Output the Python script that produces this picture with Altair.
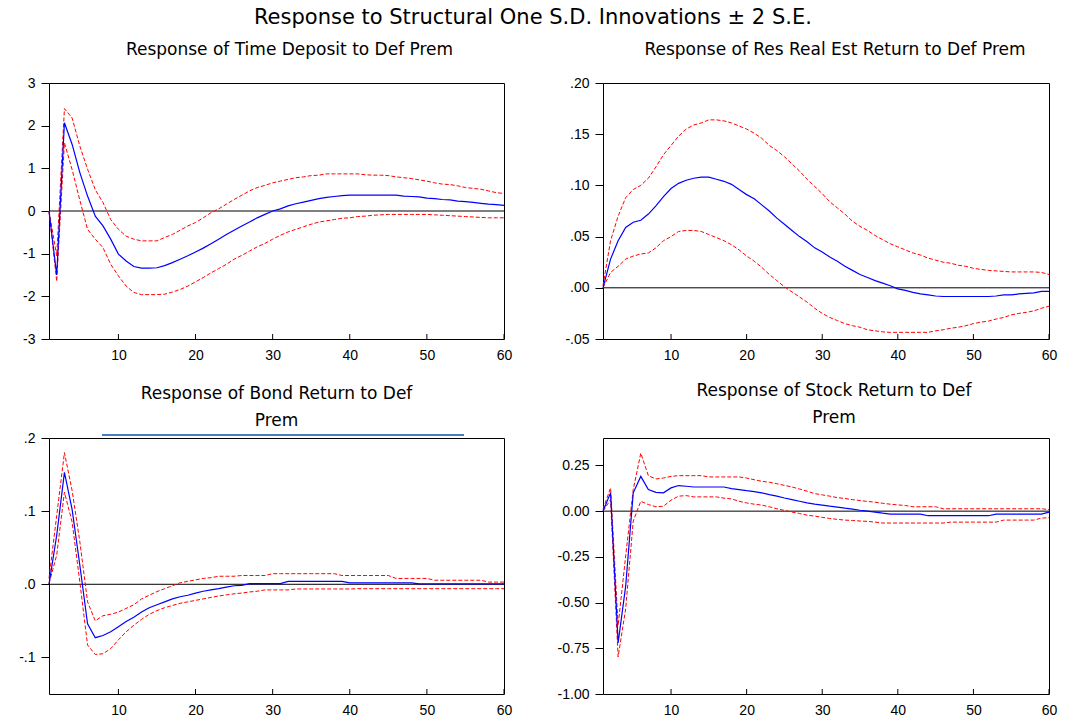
import altair as alt
import pandas as pd

# Impulse responses to a one S.D. shock in the default premium, periods 1..60
periods = list(range(1, 61))

# Time deposit
td_resp = [0.0, -1.5, 2.07, 1.56, 0.9, 0.35, -0.12, -0.35, -0.66, -1.01,
           -1.17, -1.3, -1.34, -1.34, -1.33, -1.28, -1.21, -1.13, -1.05, -0.96,
           -0.87, -0.77, -0.66, -0.55, -0.45, -0.35, -0.26, -0.16, -0.08, 0.0,
           0.05, 0.12, 0.17, 0.21, 0.25, 0.29, 0.32, 0.34, 0.36, 0.37,
           0.37, 0.37, 0.37, 0.37, 0.37, 0.37, 0.35, 0.34, 0.33, 0.3,
           0.29, 0.27, 0.26, 0.23, 0.22, 0.2, 0.18, 0.16, 0.15, 0.13]
td_up = [0.0, -1.05, 2.4, 2.18, 1.52, 0.98, 0.5, 0.2, -0.2, -0.43,
         -0.59, -0.66, -0.7, -0.7, -0.7, -0.62, -0.55, -0.45, -0.35, -0.27,
         -0.16, -0.04, 0.05, 0.16, 0.27, 0.37, 0.47, 0.55, 0.6, 0.66,
         0.7, 0.74, 0.78, 0.8, 0.83, 0.84, 0.87, 0.87, 0.87, 0.87,
         0.87, 0.85, 0.84, 0.84, 0.83, 0.8, 0.78, 0.76, 0.73, 0.7,
         0.66, 0.63, 0.62, 0.59, 0.55, 0.53, 0.51, 0.47, 0.43, 0.41]
td_lo = [0.0, -1.65, 1.6, 0.97, 0.25, -0.43, -0.66, -0.86, -1.25, -1.52,
         -1.76, -1.91, -1.96, -1.96, -1.96, -1.95, -1.9, -1.84, -1.76, -1.66,
         -1.56, -1.45, -1.35, -1.25, -1.13, -1.04, -0.94, -0.84, -0.76, -0.66,
         -0.57, -0.49, -0.43, -0.37, -0.31, -0.26, -0.23, -0.2, -0.17, -0.16,
         -0.13, -0.12, -0.1, -0.09, -0.08, -0.08, -0.08, -0.08, -0.08, -0.08,
         -0.09, -0.1, -0.11, -0.12, -0.13, -0.14, -0.15, -0.16, -0.16, -0.16]

# Residential real estate return
re_resp = [0.0, 0.028, 0.046, 0.059, 0.064, 0.066, 0.072, 0.08, 0.089, 0.097,
           0.102, 0.105, 0.107, 0.108, 0.108, 0.106, 0.104, 0.101, 0.096, 0.091,
           0.087, 0.081, 0.075, 0.068, 0.062, 0.056, 0.05, 0.045, 0.039, 0.035,
           0.03, 0.026, 0.021, 0.017, 0.013, 0.01, 0.007, 0.0045, 0.002, -0.001,
           -0.0025, -0.0045, -0.006, -0.007, -0.008, -0.0085, -0.0085, -0.0085, -0.0085, -0.0085,
           -0.0085, -0.0085, -0.008, -0.007, -0.007, -0.006, -0.0055, -0.005, -0.0035, -0.0035]
re_up = [0.002, 0.046, 0.07, 0.088, 0.096, 0.1, 0.107, 0.118, 0.13, 0.139,
         0.148, 0.155, 0.159, 0.161, 0.164, 0.164, 0.163, 0.161, 0.158, 0.155,
         0.151, 0.146, 0.139, 0.134, 0.128, 0.121, 0.114, 0.106, 0.099, 0.092,
         0.084, 0.078, 0.072, 0.065, 0.06, 0.056, 0.051, 0.047, 0.043, 0.04,
         0.037, 0.034, 0.032, 0.029, 0.027, 0.025, 0.024, 0.022, 0.021, 0.019,
         0.018, 0.017, 0.0165, 0.016, 0.0155, 0.0155, 0.0155, 0.0155, 0.015, 0.013]
re_lo = [0.0, 0.015, 0.021, 0.028, 0.031, 0.033, 0.034, 0.039, 0.046, 0.05,
         0.055, 0.056, 0.056, 0.055, 0.052, 0.049, 0.046, 0.042, 0.037, 0.031,
         0.026, 0.02, 0.013, 0.007, 0.001, -0.004, -0.009, -0.014, -0.02, -0.025,
         -0.029, -0.032, -0.035, -0.037, -0.0385, -0.041, -0.042, -0.043, -0.0435, -0.0435,
         -0.0435, -0.0435, -0.0435, -0.0435, -0.042, -0.041, -0.0395, -0.0385, -0.037, -0.035,
         -0.0335, -0.0325, -0.0305, -0.029, -0.0265, -0.025, -0.024, -0.0225, -0.02, -0.018]

# Bond return
bd_resp = [0.0, 0.067, 0.153, 0.102, 0.026, -0.054, -0.073, -0.07, -0.065, -0.058,
           -0.051, -0.045, -0.038, -0.032, -0.028, -0.024, -0.02, -0.017, -0.015, -0.012,
           -0.0095, -0.0077, -0.006, -0.004, -0.002, -0.0014, 0.001, 0.001, 0.001, 0.001,
           0.001, 0.004, 0.004, 0.004, 0.004, 0.004, 0.004, 0.004, 0.004, 0.002,
           0.002, 0.002, 0.002, 0.002, 0.002, 0.002, 0.002, 0.002, 0.0005, 0.0005,
           0.0005, 0.0005, 0.0005, 0.0005, 0.0005, 0.0005, 0.0005, 0.0005, 0.0005, 0.0005]
bd_up = [0.008, 0.094, 0.18, 0.128, 0.058, -0.024, -0.05, -0.043, -0.041, -0.038,
         -0.033, -0.028, -0.02, -0.015, -0.01, -0.006, -0.002, 0.002, 0.004, 0.006,
         0.008, 0.009, 0.011, 0.011, 0.011, 0.012, 0.012, 0.012, 0.012, 0.0145,
         0.0145, 0.0145, 0.0145, 0.0145, 0.0145, 0.0145, 0.0145, 0.0145, 0.012, 0.012,
         0.012, 0.012, 0.012, 0.012, 0.012, 0.008, 0.008, 0.008, 0.008, 0.008,
         0.0055, 0.0055, 0.0055, 0.0055, 0.0055, 0.0055, 0.0055, 0.003, 0.003, 0.003]
bd_lo = [0.001, 0.04, 0.126, 0.085, 0.003, -0.083, -0.096, -0.095, -0.088, -0.076,
         -0.065, -0.056, -0.048, -0.041, -0.036, -0.032, -0.029, -0.026, -0.024, -0.022,
         -0.02, -0.018, -0.016, -0.0145, -0.013, -0.012, -0.0105, -0.0095, -0.0077, -0.0077,
         -0.0077, -0.0077, -0.0064, -0.0064, -0.0064, -0.0064, -0.0064, -0.0064, -0.0064, -0.0064,
         -0.006, -0.006, -0.006, -0.006, -0.006, -0.006, -0.006, -0.006, -0.006, -0.006,
         -0.006, -0.006, -0.006, -0.006, -0.006, -0.006, -0.006, -0.006, -0.006, -0.006]

# Stock return
st_resp = [0.0, 0.1, -0.72, -0.41, 0.1, 0.19, 0.118, 0.103, 0.1, 0.127,
           0.14, 0.136, 0.132, 0.132, 0.132, 0.132, 0.132, 0.123, 0.118, 0.112,
           0.107, 0.1, 0.09, 0.082, 0.072, 0.063, 0.054, 0.045, 0.038, 0.033,
           0.027, 0.022, 0.016, 0.011, 0.005, 0.0, -0.005, -0.011, -0.016, -0.016,
           -0.016, -0.016, -0.016, -0.025, -0.025, -0.025, -0.025, -0.025, -0.025, -0.025,
           -0.025, -0.025, -0.016, -0.016, -0.016, -0.016, -0.016, -0.016, -0.016, -0.005]
st_up = [0.01, 0.127, -0.625, -0.245, 0.118, 0.317, 0.194, 0.176, 0.181, 0.19,
         0.194, 0.194, 0.194, 0.194, 0.187, 0.187, 0.187, 0.187, 0.187, 0.181,
         0.172, 0.163, 0.158, 0.15, 0.141, 0.132, 0.121, 0.109, 0.096, 0.089,
         0.082, 0.074, 0.069, 0.063, 0.058, 0.053, 0.049, 0.043, 0.038, 0.034,
         0.031, 0.024, 0.024, 0.024, 0.024, 0.013, 0.013, 0.013, 0.013, 0.013,
         0.013, 0.013, 0.013, 0.013, 0.013, 0.013, 0.013, 0.013, 0.013, 0.009]
st_lo = [0.0, 0.063, -0.797, -0.534, -0.054, 0.054, 0.036, 0.024, 0.027, 0.06,
         0.082, 0.085, 0.078, 0.078, 0.078, 0.078, 0.071, 0.067, 0.054, 0.045,
         0.038, 0.033, 0.024, 0.013, 0.004, -0.005, -0.013, -0.022, -0.027, -0.034,
         -0.04, -0.045, -0.049, -0.051, -0.054, -0.056, -0.06, -0.065, -0.065, -0.065,
         -0.065, -0.065, -0.065, -0.065, -0.065, -0.065, -0.06, -0.06, -0.06, -0.06,
         -0.06, -0.06, -0.06, -0.049, -0.049, -0.049, -0.049, -0.049, -0.038, -0.036]

x_ticks = [10, 20, 30, 40, 50, 60]

FONT = "Liberation Sans"
TITLE_FONT = "DejaVu Sans"
BLUE = "#0000FF"
RED = "#FF0000"
PANEL_H = 256


def label_expr(fmt, drop_zero):
    core = f"format(abs(datum.value), '{fmt}')"
    if drop_zero:
        core = f"replace({core}, '0.', '.')"
    return f"(datum.value < 0 ? '-' : '') + {core}"


def panel(title, resp, up, lo, domain, y_ticks, fmt, drop_zero, width,
          title_offset, title_dx, extra=None):
    df = pd.DataFrame({"t": periods, "resp": resp, "up": up, "lo": lo})
    xscale = alt.Scale(domain=[1, 60], nice=False, zero=False)
    x = alt.X("t:Q", scale=xscale,
              axis=alt.Axis(values=x_ticks, title=None, grid=False, domain=False,
                            ticks=False, labelFlush=False, labelPadding=9,
                            labelFontSize=14, labelFont=FONT, labelColor="black"))
    yscale = alt.Scale(domain=domain, nice=False, zero=False)
    yaxis = alt.Axis(values=y_ticks, title=None, grid=False, domain=False,
                     tickSize=8, tickColor="black", labelPadding=6,
                     minExtent=40, maxExtent=40,
                     labelFontSize=14, labelFont=FONT, labelColor="black",
                     labelExpr=label_expr(fmt, drop_zero))
    base = alt.Chart(df)
    zero = alt.Chart(pd.DataFrame({"z": [0]})).mark_rule(
        color="black", strokeWidth=1).encode(y=alt.Y("z:Q", scale=yscale, axis=yaxis))
    # period ticks drawn inward from the bottom edge
    xtick = alt.Chart(pd.DataFrame({"t": x_ticks})).mark_rule(
        color="black", strokeWidth=1).encode(
        x=alt.X("t:Q", scale=xscale), y=alt.value(PANEL_H), y2=alt.value(PANEL_H - 5))
    band_up = base.mark_line(color=RED, strokeWidth=1, strokeDash=[4, 2]).encode(
        x=x, y=alt.Y("up:Q", scale=yscale, axis=yaxis))
    band_lo = base.mark_line(color=RED, strokeWidth=1, strokeDash=[4, 2]).encode(
        x=x, y=alt.Y("lo:Q", scale=yscale, axis=yaxis))
    line = base.mark_line(color=BLUE, strokeWidth=1.2).encode(
        x=x, y=alt.Y("resp:Q", scale=yscale, axis=yaxis))
    layers = [zero, band_up, band_lo, line, xtick]
    if extra is not None:
        layers.append(extra)
    return alt.layer(*layers).properties(
        width=width, height=PANEL_H,
        title=alt.TitleParams(text=title, font=TITLE_FONT, fontSize=17, fontWeight="normal",
                              color="black", anchor="middle", lineHeight=27,
                              offset=title_offset, dx=title_dx),
    )


# thin blue stroke lying over the top edge of the bond panel
bond_edge = alt.Chart(pd.DataFrame({"k": [0]})).mark_rule(
    color="#4a7ebb", strokeWidth=2).encode(
    x=alt.value(53), x2=alt.value(415), y=alt.value(-3))

p1 = panel(["Response of Time Deposit to Def Prem"], td_resp, td_up, td_lo,
           [-3, 3], [-3, -2, -1, 0, 1, 2, 3], "d", False, 455, 17, 13)
p2 = panel(["Response of Res Real Est Return to Def Prem"], re_resp, re_up, re_lo,
           [-0.05, 0.2], [-0.05, 0.0, 0.05, 0.1, 0.15, 0.2], ".2f", True, 446, 17, 9)
p3 = panel(["Response of Bond Return to  Def", "Prem"], bd_resp, bd_up, bd_lo,
           [-0.15, 0.2], [-0.1, 0.0, 0.1, 0.2], ".1f", True, 455, 1, 0, extra=bond_edge)
p4 = panel(["Response of Stock Return to Def", "Prem"], st_resp, st_up, st_lo,
           [-1.0, 0.4], [-1.0, -0.75, -0.5, -0.25, 0.0, 0.25], ".2f", False, 446, 11, 8)

top = alt.hconcat(p1, p2, spacing=99, bounds="flush")
bottom = alt.hconcat(p3, p4, spacing=99, bounds="flush")

chart = alt.vconcat(top, bottom, spacing=18).properties(
    title=alt.TitleParams(text="Response to Structural One S.D. Innovations \u00b1 2 S.E.",
                          font=TITLE_FONT, fontSize=21, fontWeight="normal", color="black",
                          anchor="middle", offset=13),
    padding={"left": 8, "top": 6, "right": 5, "bottom": 5},
    background="white",
).configure_view(stroke="black", strokeWidth=1)

chart.save("out.html", embed_options={"renderer": "svg", "actions": False})
